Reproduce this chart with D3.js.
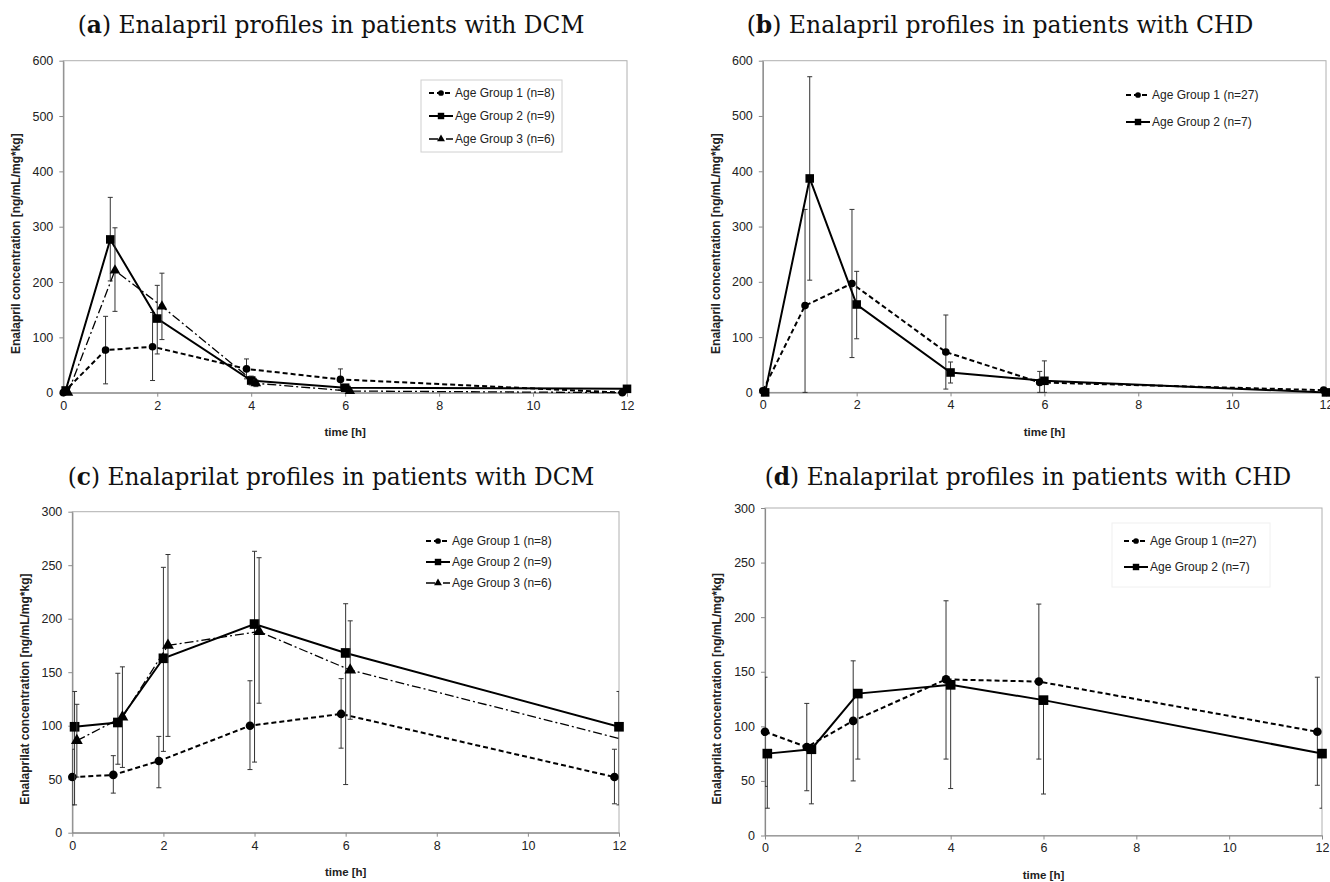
<!DOCTYPE html>
<html>
<head>
<meta charset="utf-8">
<script src="https://cdn.jsdelivr.net/npm/d3@7"></script>
<style>
  body { margin: 0; background: #fff; }
  svg { display: block; }
</style>
</head>
<body>
<svg id="chart" width="1330" height="882"></svg>
<script>
// ---- data ----
const xTicks = [0, 2, 4, 6, 8, 10, 12];

// (a) enalapril, DCM
const aG1x = [0, 0.9, 1.9, 3.9, 5.9, 11.9];
const aG1 = [0, 77, 83, 43, 24, 0];
const aG1lo = [0, 16, 22, 25, 5, 0];
const aG1hi = [0, 138, 145, 61, 43, 0];
const aG2x = [0.05, 1, 2, 4, 6, 12];
const aG2 = [4, 277, 134, 22, 9, 7];
const aG2lo = [4, 202, 70, 14, 5, 7];
const aG2hi = [4, 353, 194, 30, 13, 7];
const aG3x = [0.1, 1.1, 2.1, 4.1, 6.1, 12.1];
const aG3 = [0, 221, 156, 17, 3, 0];
const aG3lo = [0, 147, 96, 11, 1, 0];
const aG3hi = [0, 298, 216, 23, 5, 0];

// (b) enalapril, CHD
const bG1x = [0, 0.9, 1.9, 3.9, 5.9, 11.95];
const bG1 = [3, 157, 197, 73, 18, 4];
const bG1lo = [3, 0, 63, 6, 0, 1];
const bG1hi = [3, 331, 331, 140, 38, 7];
const bG2x = [0.05, 1, 2, 4, 6, 12];
const bG2 = [0, 387, 159, 36, 21, 0];
const bG2lo = [0, 203, 97, 17, 0, 0];
const bG2hi = [0, 571, 219, 55, 57, 0];

// (c) enalaprilat, DCM
const cG1x = [0, 0.9, 1.9, 3.9, 5.9, 11.9];
const cG1 = [52, 54, 67, 100, 111, 52];
const cG1lo = [26, 37, 42, 59, 79, 27];
const cG1hi = [78, 72, 90, 142, 144, 78];
const cG2x = [0.05, 1, 2, 4, 6, 12];
const cG2 = [99, 103, 163, 195, 168, 99];
const cG2lo = [26, 64, 76, 66, 45, 26];
const cG2hi = [132, 149, 248, 263, 214, 132];
const cG3x = [0.1, 1.1, 2.1, 4.1, 6.1, 12.1];
const cG3 = [86, 108, 175, 188, 152, 87];
const cG3lo = [52, 61, 90, 121, 106, 53];
const cG3hi = [120, 155, 260, 257, 198, 121];

// (d) enalaprilat, CHD
const dG1x = [0, 0.9, 1.9, 3.9, 5.9, 11.9];
const dG1 = [95, 81, 105, 143, 141, 95];
const dG1lo = [45, 41, 50, 70, 70, 46];
const dG1hi = [145, 121, 160, 215, 212, 145];
const dG2x = [0.05, 1, 2, 4, 6, 12];
const dG2 = [75, 79, 130, 138, 124, 75];
const dG2lo = [25, 29, 70, 43, 38, 25];
const dG2hi = [75, 79, 130, 138, 124, 75];

const dcmLabels = ["Age Group 1 (n=8)", "Age Group 2 (n=9)", "Age Group 3 (n=6)"];
const chdLabels = ["Age Group 1 (n=27)", "Age Group 2 (n=7)"];

// ---- line styles per age group ----
const styles = [
    { dash: "5,3", width: 2, marker: "circle" },
    { dash: null, width: 2, marker: "square" },
    { dash: "9,3,2,3", width: 1.3, marker: "triangle" }
];

const svg = d3.select("#chart");

function series(xs, ys, lo, hi) {
    return xs.map((x, i) => ({ x: x, y: ys[i], lo: lo[i], hi: hi[i] }));
}

function drawPanel(p) {
    const x = d3.scaleLinear().domain([0, 12]).range([p.left, p.right]);
    const y = d3.scaleLinear().domain([0, p.ymax]).range([p.bottom, p.top]);
    const g = svg.append("g");

    // title with bold panel letter
    const title = g.append("text")
        .attr("x", p.titleX)
        .attr("y", p.titleY)
        .attr("text-anchor", "middle")
        .attr("font-family", "'DejaVu Serif', 'Liberation Serif', serif")
        .attr("font-size", 21)
        .attr("fill", "#111");
    title.append("tspan").text("(");
    title.append("tspan").attr("font-weight", "bold").text(p.letter);
    title.append("tspan").text(") " + p.title);
    // fit to width seen in the figure
    const w = title.node().getComputedTextLength();
    title.attr("font-size", 21 * p.titleW / w);

    // plot frame
    g.append("rect")
        .attr("x", p.left).attr("y", p.top)
        .attr("width", p.right - p.left).attr("height", p.bottom - p.top)
        .attr("fill", "none").attr("stroke", "#b0b0b0").attr("stroke-width", 1);

    // axes
    const yAxis = g.append("g")
        .attr("transform", `translate(${p.left},0)`)
        .call(d3.axisLeft(y).tickValues(d3.range(0, p.ymax + 1, p.ystep))
            .tickSize(4).tickSizeOuter(0).tickPadding(6));
    const xAxis = g.append("g")
        .attr("transform", `translate(0,${p.bottom})`)
        .call(d3.axisBottom(x).tickValues(xTicks).tickSize(4).tickSizeOuter(0).tickPadding(4));
    [yAxis, xAxis].forEach(a => {
        a.select(".domain").attr("stroke", "#8a8a8a").attr("stroke-width", 1.2);
        a.selectAll(".tick line").attr("stroke", "#8a8a8a");
        a.selectAll("text")
            .attr("font-family", "'Liberation Sans', Arial, sans-serif")
            .attr("font-size", 12.5)
            .attr("fill", "#222");
    });

    // axis titles
    g.append("text")
        .attr("transform", `translate(${p.yTitleX},${(p.top + p.bottom) / 2 + 17}) rotate(-90)`)
        .attr("text-anchor", "middle")
        .attr("font-family", "'Liberation Sans', Arial, sans-serif")
        .attr("font-weight", "bold")
        .attr("font-size", 12)
        .attr("fill", "#222")
        .text(p.yTitle);
    g.append("text")
        .attr("x", (p.left + p.right) / 2)
        .attr("y", p.xTitleY)
        .attr("text-anchor", "middle")
        .attr("font-family", "'Liberation Sans', Arial, sans-serif")
        .attr("font-weight", "bold")
        .attr("font-size", 11.5)
        .attr("fill", "#222")
        .text("time [h]");

    // clip for lines/error bars
    const clipId = "clip-" + p.letter;
    svg.append("clipPath").attr("id", clipId)
        .append("rect")
        .attr("x", p.left).attr("y", p.top - 2)
        .attr("width", p.right - p.left).attr("height", p.bottom - p.top + 3);

    const plot = g.append("g");
    const line = d3.line().x(d => x(d.x)).y(d => y(d.y));

    p.series.forEach((s, k) => {
        const st = styles[k];
        const sg = plot.append("g");

        // error bars
        const eb = sg.append("g").attr("clip-path", `url(#${clipId})`)
            .selectAll("g").data(s).join("g");
        eb.append("line")
            .attr("x1", d => x(d.x)).attr("x2", d => x(d.x))
            .attr("y1", d => y(d.lo)).attr("y2", d => y(d.hi))
            .attr("stroke", "#333").attr("stroke-width", 1);
        eb.append("line")
            .attr("x1", d => x(d.x) - 2.5).attr("x2", d => x(d.x) + 2.5)
            .attr("y1", d => y(d.hi)).attr("y2", d => y(d.hi))
            .attr("stroke", "#333").attr("stroke-width", 1);
        eb.append("line")
            .attr("x1", d => x(d.x) - 2.5).attr("x2", d => x(d.x) + 2.5)
            .attr("y1", d => y(d.lo)).attr("y2", d => y(d.lo))
            .attr("stroke", "#333").attr("stroke-width", 1);

        // mean profile
        sg.append("path")
            .datum(s)
            .attr("clip-path", `url(#${clipId})`)
            .attr("d", line)
            .attr("fill", "none")
            .attr("stroke", "#000")
            .attr("stroke-width", st.width)
            .attr("stroke-dasharray", st.dash);

        // markers (points past the last time tick are not plotted)
        sg.selectAll("path.m")
            .data(s.filter(d => d.x <= 12))
            .join("path")
            .attr("class", "m")
            .attr("transform", d => `translate(${x(d.x)},${y(d.y)})`)
            .attr("d", markerPath(st.marker, p.msize))
            .attr("fill", "#000");
    });

    // legend
    const lg = g.append("g");
    if (p.legendBox) {
        lg.append("rect")
            .attr("x", p.legendBox[0]).attr("y", p.legendBox[1])
            .attr("width", p.legendBox[2]).attr("height", p.legendBox[3])
            .attr("fill", "#fff").attr("stroke", p.legendStroke).attr("stroke-width", 1);
    }
    p.labels.forEach((lab, k) => {
        const st = styles[k];
        const yy = p.legendY[k];
        lg.append("line")
            .attr("x1", p.legendX).attr("x2", p.legendX + 24)
            .attr("y1", yy).attr("y2", yy)
            .attr("stroke", "#000")
            .attr("stroke-width", st.width)
            .attr("stroke-dasharray", st.dash);
        lg.append("path")
            .attr("transform", `translate(${p.legendX + 12},${yy})`)
            .attr("d", markerPath(st.marker, 6))
            .attr("fill", "#000");
        lg.append("text")
            .attr("x", p.legendX + 26)
            .attr("y", yy)
            .attr("dy", "0.35em")
            .attr("font-family", "'Liberation Sans', Arial, sans-serif")
            .attr("font-size", 12)
            .attr("fill", "#222")
            .text(lab);
    });
}

function markerPath(kind, size) {
    if (kind === "circle") return d3.symbol(d3.symbolCircle, size * size * 0.72)();
    if (kind === "square") return d3.symbol(d3.symbolSquare, size * size * 1.15)();
    return d3.symbol(d3.symbolTriangle, size * size * 0.75)();
}

// ---- panels ----
drawPanel({
    letter: "a", title: "Enalapril profiles in patients with DCM",
    titleX: 331, titleY: 33, titleW: 507,
    left: 63.3, right: 627, top: 60.7, bottom: 392.7, ymax: 600, ystep: 100,
    yTitle: "Enalapril concentration [ng/mL/mg*kg]", yTitleX: 20, xTitleY: 436,
    msize: 8,
    series: [series(aG1x, aG1, aG1lo, aG1hi), series(aG2x, aG2, aG2lo, aG2hi), series(aG3x, aG3, aG3lo, aG3hi)],
    labels: dcmLabels, legendX: 429, legendY: [93, 116, 139],
    legendBox: [421, 80, 141, 72], legendStroke: "#d0d0d0"
});

drawPanel({
    letter: "b", title: "Enalapril profiles in patients with CHD",
    titleX: 1000, titleY: 33, titleW: 507,
    left: 762.8, right: 1326, top: 60.7, bottom: 392.4, ymax: 600, ystep: 100,
    yTitle: "Enalapril concentration [ng/mL/mg*kg]", yTitleX: 719.5, xTitleY: 436,
    msize: 8,
    series: [series(bG1x, bG1, bG1lo, bG1hi), series(bG2x, bG2, bG2lo, bG2hi)],
    labels: chdLabels, legendX: 1126, legendY: [95, 122],
    legendBox: null
});

drawPanel({
    letter: "c", title: "Enalaprilat profiles in patients with DCM",
    titleX: 331, titleY: 485, titleW: 527,
    left: 72.3, right: 619, top: 511.7, bottom: 832.7, ymax: 300, ystep: 50,
    yTitle: "Enalaprilat concentration [ng/mL/mg*kg]", yTitleX: 29, xTitleY: 876,
    msize: 9,
    series: [series(cG1x, cG1, cG1lo, cG1hi), series(cG2x, cG2, cG2lo, cG2hi), series(cG3x, cG3, cG3lo, cG3hi)],
    labels: dcmLabels, legendX: 426, legendY: [541, 562, 583],
    legendBox: null
});

drawPanel({
    letter: "d", title: "Enalaprilat profiles in patients with CHD",
    titleX: 1028, titleY: 485, titleW: 527,
    left: 765, right: 1322, top: 508, bottom: 835.5, ymax: 300, ystep: 50,
    yTitle: "Enalaprilat concentration [ng/mL/mg*kg]", yTitleX: 721, xTitleY: 879,
    msize: 9,
    series: [series(dG1x, dG1, dG1lo, dG1hi), series(dG2x, dG2, dG2lo, dG2hi)],
    labels: chdLabels, legendX: 1124, legendY: [541, 567],
    legendBox: [1112, 523, 158, 64], legendStroke: "#f0f0f0"
});
</script>
</body>
</html>
